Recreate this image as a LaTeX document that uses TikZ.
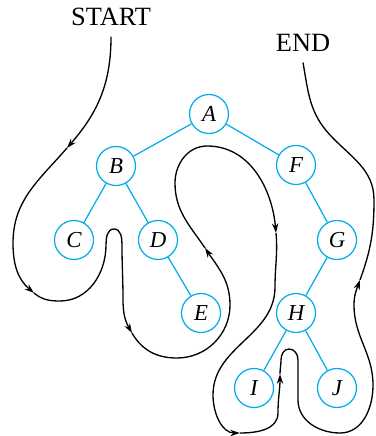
\documentclass[tikz,border=0pt]{standalone}
\usepackage{fontspec}
\setmainfont{Liberation Serif}
\usetikzlibrary{arrows.meta}
\definecolor{treeblue}{RGB}{0,170,235}

\begin{document}
\begin{tikzpicture}[
    vertex/.style={circle, draw=treeblue, line width=0.7pt, minimum size=0.78cm, inner sep=0pt, font=\fontsize{13}{13}\selectfont\itshape},
    branch/.style={draw=treeblue, line width=0.7pt},
    tag/.style={font=\fontsize{15}{15}\selectfont, inner sep=6pt},
    trace/.style={line width=0.75pt, -{Stealth[length=5.5pt, width=3.6pt]}},
    lasttrace/.style={line width=0.75pt}
]
\useasboundingbox (0, 0) rectangle (7.5, 8.72);

% Tree
\node[vertex] (A) at (4.18, 6.44) {A};
\node[vertex] (B) at (2.32, 5.40) {B};
\node[vertex] (F) at (5.92, 5.42) {F};
\node[vertex] (C) at (1.48, 3.92) {C};
\node[vertex] (D) at (3.16, 3.92) {D};
\node[vertex] (G) at (6.74, 3.92) {G};
\node[vertex] (E) at (4.02, 2.46) {E};
\node[vertex] (H) at (5.92, 2.46) {H};
\node[vertex] (I) at (5.08, 0.96) {I};
\node[vertex] (J) at (6.74, 0.96) {J};

\draw[branch] (A) -- (B); \draw[branch] (A) -- (F);
\draw[branch] (B) -- (C); \draw[branch] (B) -- (D);
\draw[branch] (D) -- (E);
\draw[branch] (F) -- (G); \draw[branch] (G) -- (H);
\draw[branch] (H) -- (I); \draw[branch] (H) -- (J);

% Labels
\node[tag] (start) at (2.22, 8.38) {START};
\node[tag] (end) at (6.06, 7.86) {END};

% Traversal path, arrows at a1 ... a8
\coordinate (a1) at (1.34, 5.76);
\coordinate (a2) at (0.68, 2.86);
\coordinate (a3) at (2.64, 2.06);
\coordinate (a4) at (4.10, 3.76);
\coordinate (a5) at (5.52, 4.06);
\coordinate (a6) at (4.80, 0.06);
\coordinate (a7) at (5.60, 1.24);
\coordinate (a8) at (7.20, 3.12);

\draw[trace] (start.south) to[out=-90, in=49] (a1);
\draw[trace] (a1) to[out=-131, in=90] (0.26, 3.86) to[out=-90, in=140] (a2);
\draw[trace] (a2) to[out=-40, in=180] (1.20, 2.70) to[out=0, in=-90] (2.12, 3.82)
    to[out=90, in=180] (2.28, 4.14) to[out=0, in=90] (2.44, 3.82)
    to[out=-90, in=90] (2.46, 2.72) to[out=-90, in=120] (a3);
\draw[trace] (a3) to[out=-60, in=180] (3.54, 1.56) to[out=0, in=-90] (4.60, 2.62) to[out=90, in=-56] (a4);
\draw[trace] (a4) to[out=124, in=-90] (3.50, 5.06) to[out=90, in=180] (4.14, 5.80) to[out=0, in=95] (a5);
\draw[trace] (a5) to[out=-85, in=90] (5.50, 2.98) to[out=-90, in=90] (4.26, 0.82) to[out=-90, in=180] (a6);
\draw[trace] (a6) to[out=0, in=-90] (5.56, 0.46) to[out=90, in=-90] (a7);
\draw[trace] (a7) to[out=90, in=-90] (5.62, 1.52) to[out=90, in=180] (5.78, 1.74)
    to[out=0, in=90] (5.96, 1.52) to[out=-90, in=90] (5.96, 0.72)
    to[out=-90, in=180] (6.80, 0.06) to[out=0, in=-90] (7.46, 1.02)
    to[out=90, in=-90] (7.08, 2.62) to[out=90, in=-110] (a8);
\draw[lasttrace] (a8) to[out=70, in=-90] (7.48, 4.72) to[out=90, in=-47] (6.60, 6.02) to[out=133, in=-80] (end.south);

\end{tikzpicture}
\end{document}
